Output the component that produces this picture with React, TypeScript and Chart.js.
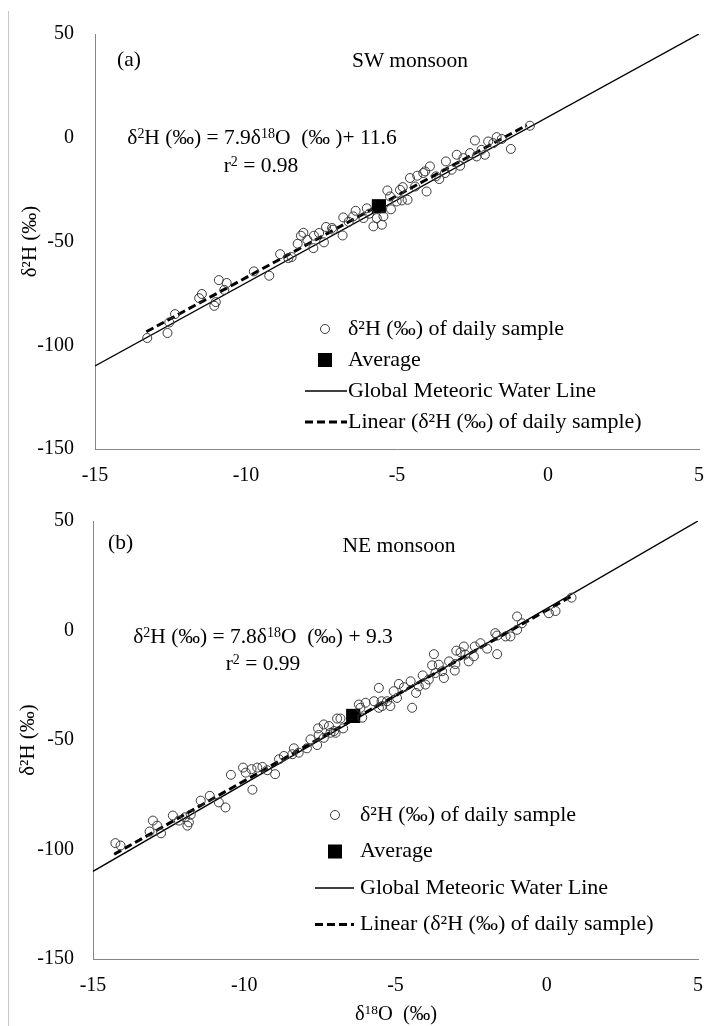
import React, { useEffect, useRef } from "react";
import { Chart, registerables } from "chart.js";
Chart.register(...registerables);

const FONT = "'Liberation Serif', 'Times New Roman', serif";

// ---- Panel (a) SW monsoon: daily samples ----
const swX = [-13.27, -12.6, -12.54, -12.35, -11.55, -11.46, -11.05, -11.0, -10.9, -10.72, -10.64, -9.74, -9.23, -8.87, -8.6, -8.49, -8.29, -8.18, -8.1, -7.97, -7.77, -7.75, -7.58, -7.42, -7.35, -7.15, -7.12, -6.8, -6.78, -6.6, -6.45, -6.37, -6.11, -6.0, -5.92, -5.78, -5.67, -5.5, -5.45, -5.32, -5.23, -5.2, -5.01, -4.9, -4.84, -4.81, -4.65, -4.57, -4.4, -4.33, -4.13, -4.07, -4.02, -3.91, -3.71, -3.6, -3.41, -3.38, -3.19, -3.02, -2.91, -2.8, -2.58, -2.42, -2.36, -2.2, -2.09, -1.98, -1.81, -1.7, -1.53, -1.23, -0.6];
const swY = [-96.5, -94.1, -89.0, -85.0, -77.3, -75.3, -81.0, -79.2, -68.6, -73.3, -70.0, -64.4, -66.5, -56.1, -58.0, -57.5, -51.1, -47.2, -45.8, -49.2, -53.2, -47.2, -45.9, -50.4, -43.0, -43.5, -44.3, -47.1, -38.4, -40.5, -37.9, -35.2, -38.7, -34.0, -36.6, -42.7, -38.7, -41.9, -37.9, -25.4, -28.3, -34.5, -30.7, -25.1, -30.2, -23.8, -29.9, -19.4, -23.5, -18.3, -17.0, -16.2, -25.9, -13.8, -18.6, -19.9, -17.0, -11.4, -15.4, -8.2, -13.5, -9.8, -7.4, -1.3, -9.0, -5.8, -8.2, -1.8, -2.6, 0.3, -0.6, -5.4, 5.8];
const swAvgX = [-5.6];
const swAvgY = [-33.0];
const swTrendX = [-13.3, -0.7];
const swTrendY = [-93.5, 6.1];

// ---- Panel (b) NE monsoon: daily samples ----
const neX = [-14.26, -14.09, -13.13, -13.02, -12.88, -12.75, -12.36, -12.16, -11.96, -11.88, -11.83, -11.77, -11.44, -11.14, -10.84, -10.62, -10.44, -10.04, -9.95, -9.73, -9.76, -9.57, -9.4, -9.24, -8.98, -8.85, -8.69, -8.41, -8.36, -8.2, -7.93, -7.81, -7.59, -7.54, -7.56, -7.37, -7.37, -7.2, -7.15, -7.03, -6.98, -6.93, -6.82, -6.73, -6.21, -6.16, -6.1, -5.99, -5.71, -5.55, -5.55, -5.46, -5.44, -5.28, -5.17, -5.06, -4.95, -4.89, -4.72, -4.5, -4.45, -4.32, -4.23, -4.1, -4.01, -3.9, -3.79, -3.73, -3.68, -3.57, -3.46, -3.4, -3.23, -3.04, -3.02, -2.99, -2.85, -2.74, -2.69, -2.58, -2.41, -2.38, -2.19, -1.97, -1.7, -1.64, -1.64, -1.36, -1.2, -0.98, -0.98, -0.82, 0.07, 0.29, 0.82];
const neY = [-97.1, -98.2, -91.8, -86.8, -89.1, -92.6, -84.5, -86.8, -85.3, -89.1, -87.6, -84.1, -77.7, -75.5, -78.5, -80.8, -65.9, -62.6, -64.9, -72.7, -63.3, -62.6, -62.3, -63.8, -65.6, -58.8, -57.3, -56.5, -53.8, -55.8, -53.8, -49.7, -52.3, -47.7, -44.7, -42.9, -49.0, -43.6, -46.7, -45.9, -46.7, -40.2, -40.2, -44.7, -33.8, -35.3, -39.8, -33.0, -32.3, -26.2, -35.3, -32.3, -34.5, -32.3, -34.5, -27.7, -30.8, -24.4, -25.9, -23.2, -35.3, -28.5, -25.5, -20.5, -24.7, -22.4, -15.9, -10.8, -19.4, -15.6, -18.6, -21.7, -14.1, -18.3, -15.3, -9.2, -9.9, -7.3, -11.0, -14.1, -11.8, -7.3, -5.8, -8.3, -1.2, -10.8, -2.3, -2.7, -2.7, 6.4, 0.3, 3.3, 7.9, 8.9, 15.0];
const neAvgX = [-6.4];
const neAvgY = [-39.0];
const neTrendX = [-14.3, 0.8];
const neTrendY = [-102.2, 15.5];

// ---- Global Meteoric Water Line (both panels) ----
const gmwlX = [-15, 5];
const gmwlY = [-110, 50];

// ---- axes ----
const xMin = -15, xMax = 5, xStep = 5;
const yMin = -150, yMax = 50, yStep = 50;

const legendLabels = [
  "δ²H (‰) of daily sample",
  "Average",
  "Global Meteoric Water Line",
  "Linear (δ²H (‰) of daily sample)",
];

const pts = (xs: number[], ys: number[]) => xs.map((x, i) => ({ x, y: ys[i] }));

const insideLegend = {
  id: "insideLegend",
  afterDatasetsDraw(chart: any, _a: any, opts: any) {
    if (!opts || !opts.labels) return;
    const ctx = chart.ctx;
    ctx.save();
    ctx.font = `${opts.fontSize}px ${FONT}`;
    ctx.textBaseline = "middle";
    ctx.textAlign = "left";
    opts.labels.forEach((label: string, i: number) => {
      const cy = opts.y + i * opts.gap;
      ctx.save();
      if (i === 0) {
        ctx.beginPath();
        ctx.arc(opts.markerX, cy, 4.5, 0, Math.PI * 2);
        ctx.strokeStyle = "#3a3a3a";
        ctx.lineWidth = 1;
        ctx.stroke();
      } else if (i === 1) {
        ctx.fillStyle = "#000";
        ctx.fillRect(opts.markerX - 7, cy - 7, 14, 14);
      } else {
        ctx.beginPath();
        ctx.moveTo(opts.lineFrom, cy);
        ctx.lineTo(opts.lineTo, cy);
        ctx.strokeStyle = "#000";
        if (i === 2) {
          ctx.lineWidth = 1.5;
        } else {
          ctx.lineWidth = 3;
          ctx.setLineDash([8, 4]);
        }
        ctx.stroke();
      }
      ctx.restore();
      ctx.fillStyle = "#000";
      ctx.fillText(label, opts.textX, cy);
    });
    ctx.restore();
  },
};

type PanelProps = {
  top: number;
  height: number;
  areaLeft: number;
  areaRight: number;
  areaTop: number;
  areaBottom: number;
  titlePad: number;
  xs: number[];
  ys: number[];
  avgX: number[];
  avgY: number[];
  trendX: number[];
  trendY: number[];
  legend: any;
};

function Panel(p: PanelProps) {
  const ref = useRef<HTMLCanvasElement | null>(null);
  useEffect(() => {
    if (!ref.current) return;
    const tickFont = { family: FONT, size: 20 };
    const chart = new Chart(ref.current, {
      type: "scatter",
      data: {
        datasets: [
          {
            label: legendLabels[0],
            data: pts(p.xs, p.ys),
            pointStyle: "circle",
            pointRadius: 4.5,
            borderColor: "#3a3a3a",
            backgroundColor: "rgba(255,255,255,0)",
            borderWidth: 1,
          },
          {
            label: legendLabels[2],
            data: pts(gmwlX, gmwlY),
            showLine: true,
            pointRadius: 0,
            borderColor: "#000",
            borderWidth: 1.4,
          },
          {
            label: legendLabels[3],
            data: pts(p.trendX, p.trendY),
            showLine: true,
            pointRadius: 0,
            borderColor: "#000",
            borderWidth: 3,
            borderDash: [8, 4],
          },
          {
            label: legendLabels[1],
            data: pts(p.avgX, p.avgY),
            pointStyle: "rect",
            pointRadius: 10,
            backgroundColor: "#000",
            borderColor: "#000",
            borderWidth: 0,
          },
        ],
      },
      options: {
        responsive: false,
        animation: false,
        events: [],
        layout: {
          padding: { left: 0, top: p.areaTop, right: 720 - p.areaRight, bottom: 0 },
        },
        plugins: {
          legend: { display: false },
          tooltip: { enabled: false },
          insideLegend: p.legend,
        } as any,
        scales: {
          x: {
            type: "linear",
            min: xMin,
            max: xMax,
            afterFit: (s: any) => {
              s.height = p.height - p.areaBottom;
            },
            grid: { display: false, drawTicks: false, tickLength: 0 },
            border: { display: true, color: "#868686", width: 1 },
            ticks: { stepSize: xStep, color: "#000", font: tickFont, padding: 15 },
          },
          y: {
            type: "linear",
            min: yMin,
            max: yMax,
            afterFit: (s: any) => {
              s.width = p.areaLeft;
            },
            grid: { display: false, drawTicks: false, tickLength: 0 },
            border: { display: true, color: "#868686", width: 1 },
            ticks: { stepSize: yStep, color: "#000", font: tickFont, padding: p.areaLeft - 74 },
            title: {
              display: true,
              text: "δ²H (‰)",
              color: "#000",
              font: { family: FONT, size: 21 },
              padding: { top: p.titlePad, bottom: 0 },
            },
          },
        },
      },
      plugins: [insideLegend],
    } as any);
    return () => chart.destroy();
  }, []);
  return (
    <canvas
      ref={ref}
      width={720}
      height={p.height}
      style={{ position: "absolute", left: 0, top: p.top, width: 720, height: p.height, display: "block" }}
    />
  );
}

const txt = (left: number, top: number, size: number, center: boolean): React.CSSProperties => ({
  position: "absolute",
  left,
  top,
  fontFamily: FONT,
  fontSize: size,
  color: "#000",
  whiteSpace: "nowrap",
  lineHeight: 1,
  transform: center ? "translate(-50%, -50%)" : "translate(0, -50%)",
  textAlign: "center",
});

const supStyle: React.CSSProperties = { fontSize: "0.65em", verticalAlign: "0.45em", lineHeight: 0 };

export default function App() {
  return (
    <div style={{ position: "absolute", left: 0, top: 0, width: 720, height: 1026, background: "#fff", overflow: "hidden" }}>
      <div style={{ position: "absolute", left: 8, top: 11, width: 1, height: 1015, background: "#c8c8c8" }} />
      <Panel
        top={0}
        height={490}
        areaLeft={95}
        areaRight={699}
        areaTop={34}
        areaBottom={449}
        titlePad={18}
        xs={swX}
        ys={swY}
        avgX={swAvgX}
        avgY={swAvgY}
        trendX={swTrendX}
        trendY={swTrendY}
        legend={{ labels: legendLabels, fontSize: 22, markerX: 325, y: 329, gap: 31, textX: 348, lineFrom: 305, lineTo: 347 }}
      />
      <Panel
        top={490}
        height={536}
        areaLeft={93}
        areaRight={698}
        areaTop={29}
        areaBottom={469}
        titlePad={16}
        xs={neX}
        ys={neY}
        avgX={neAvgX}
        avgY={neAvgY}
        trendX={neTrendX}
        trendY={neTrendY}
        legend={{ labels: legendLabels, fontSize: 22, markerX: 335, y: 325, gap: 36.5, textX: 360, lineFrom: 315, lineTo: 354 }}
      />
      {/* panel (a) annotations */}
      <div style={txt(117, 60, 21.5, false)}>(a)</div>
      <div style={txt(410, 61, 21.5, true)}>SW monsoon</div>
      <div style={txt(262, 138, 21.5, true)}>
        δ<sup style={supStyle}>2</sup>H (‰) = 7.9δ<sup style={supStyle}>18</sup>O&nbsp; (‰ )+ 11.6
      </div>
      <div style={txt(261, 166, 21.5, true)}>
        r<sup style={supStyle}>2</sup> = 0.98
      </div>
      {/* panel (b) annotations */}
      <div style={txt(108, 543, 21.5, false)}>(b)</div>
      <div style={txt(399, 546, 21.5, true)}>NE monsoon</div>
      <div style={txt(263, 637, 21.5, true)}>
        δ<sup style={supStyle}>2</sup>H (‰) = 7.8δ<sup style={supStyle}>18</sup>O&nbsp; (‰) + 9.3
      </div>
      <div style={txt(263, 664, 21.5, true)}>
        r<sup style={supStyle}>2</sup> = 0.99
      </div>
      <div style={txt(396, 1013, 20.5, true)}>
        δ<sup style={supStyle}>18</sup>O&nbsp; (‰)
      </div>
    </div>
  );
}
